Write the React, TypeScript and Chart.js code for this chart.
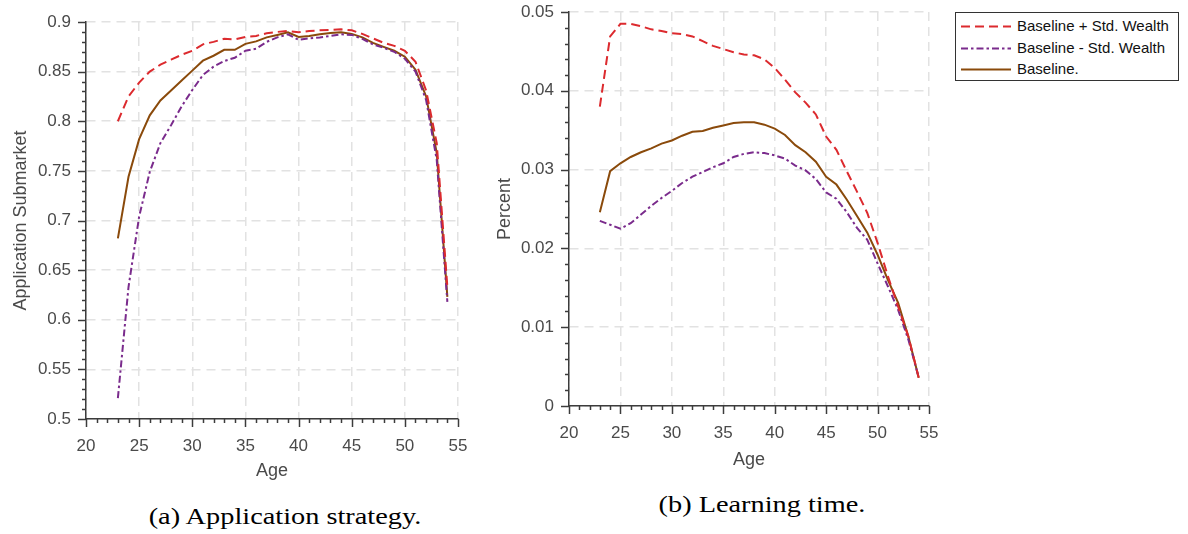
import React, { useEffect, useRef } from 'react';
import { Chart, registerables } from 'chart.js';

Chart.register(...registerables);

// ---------- data ----------
const ages = [23, 24, 25, 26, 27, 28, 29, 30, 31, 32, 33, 34, 35, 36, 37, 38, 39, 40, 41, 42, 43, 44, 45, 46, 47, 48, 49, 50, 51, 52, 53, 54];

const appPlus = [0.800, 0.825, 0.839, 0.850, 0.857, 0.862, 0.867, 0.871, 0.8775, 0.880, 0.883, 0.8825, 0.885, 0.886, 0.8886, 0.890, 0.891, 0.8896, 0.891, 0.8916, 0.892, 0.8926, 0.8916, 0.888, 0.8835, 0.879, 0.876, 0.871, 0.860, 0.831, 0.778, 0.633];
const appMinus = [0.521, 0.633, 0.704, 0.749, 0.778, 0.796, 0.815, 0.8315, 0.8466, 0.855, 0.8607, 0.864, 0.871, 0.873, 0.880, 0.8845, 0.8876, 0.882, 0.8835, 0.8845, 0.886, 0.8876, 0.887, 0.883, 0.8775, 0.874, 0.870, 0.863, 0.850, 0.8214, 0.761, 0.618];
const appBase = [0.682, 0.744, 0.782, 0.806, 0.821, 0.831, 0.841, 0.851, 0.861, 0.866, 0.872, 0.872, 0.878, 0.8805, 0.8845, 0.887, 0.8896, 0.885, 0.886, 0.8876, 0.889, 0.8896, 0.888, 0.8845, 0.879, 0.875, 0.871, 0.865, 0.852, 0.825, 0.768, 0.623];

const learnPlus = [0.0380, 0.0469, 0.0485, 0.0485, 0.0482, 0.0478, 0.0476, 0.0473, 0.0472, 0.0469, 0.0463, 0.0457, 0.0453, 0.0449, 0.0446, 0.0445, 0.0440, 0.0429, 0.0414, 0.0398, 0.0385, 0.0370, 0.0342, 0.0325, 0.0298, 0.0272, 0.0245, 0.0207, 0.0165, 0.0126, 0.0088, 0.0036];
const learnMinus = [0.0235, 0.0230, 0.0225, 0.0232, 0.0243, 0.0254, 0.0264, 0.0273, 0.0283, 0.0291, 0.0297, 0.0303, 0.0308, 0.0316, 0.0320, 0.0322, 0.0321, 0.0318, 0.0314, 0.0305, 0.0299, 0.0288, 0.0271, 0.0263, 0.0246, 0.0226, 0.0211, 0.0181, 0.0152, 0.0122, 0.0084, 0.0036];
const learnBase = [0.0246, 0.0298, 0.0308, 0.0316, 0.0322, 0.0327, 0.0333, 0.0337, 0.0343, 0.0348, 0.0349, 0.0353, 0.0356, 0.0359, 0.0360, 0.0360, 0.0357, 0.0352, 0.0344, 0.0331, 0.0322, 0.0310, 0.0291, 0.0281, 0.0262, 0.0241, 0.0220, 0.0192, 0.0160, 0.0131, 0.0088, 0.0036];

const xTickLabels = ['20', '25', '30', '35', '40', '45', '50', '55'];
const yTicksApp = ['0.5', '0.55', '0.6', '0.65', '0.7', '0.75', '0.8', '0.85', '0.9'];
const yTicksLearn = ['0', '0.01', '0.02', '0.03', '0.04', '0.05'];

const seriesNames = ['Baseline + Std. Wealth', 'Baseline - Std. Wealth', 'Baseline.'];
const yTitles = ['Application Submarket', 'Percent'];
const xTitle = 'Age';
const captions = ['(a) Application strategy.', '(b) Learning time.'];

// ---------- styles ----------
const COLORS = ['#dc2a2e', '#7a2b8c', '#8a4a0b'];
const DASHES = [[9, 5], [7, 3, 2.5, 3], []];
const AXIS_COLOR = '#3c3c3c';
const TEXT_COLOR = '#4a4a4a';
const GRID_COLOR = '#e2e2e2';
const SANS = "'Liberation Sans', Arial, Helvetica, sans-serif";

const outerTicks = {
  id: 'outerTicks',
  afterDraw(chart: any, _args: any, opts: any) {
    const { ctx, chartArea, scales } = chart;
    const xs = scales.x;
    const ys = scales.y;
    ctx.save();
    ctx.strokeStyle = AXIS_COLOR;
    ctx.lineWidth = 1.5;
    const nx = Math.round((xs.max - xs.min) / opts.xMinor);
    for (let i = 0; i <= nx; i++) {
      const v = xs.min + i * opts.xMinor;
      const major = i % opts.xPer === 0;
      const p = Math.round(xs.getPixelForValue(v)) + 0.5;
      ctx.beginPath();
      ctx.moveTo(p, chartArea.bottom);
      ctx.lineTo(p, chartArea.bottom + (major ? 8 : 4));
      ctx.stroke();
    }
    const ny = Math.round((ys.max - ys.min) / opts.yMinor);
    for (let i = 0; i <= ny; i++) {
      const v = ys.min + i * opts.yMinor;
      const major = i % opts.yPer === 0;
      const p = Math.round(ys.getPixelForValue(v)) + 0.5;
      ctx.beginPath();
      ctx.moveTo(chartArea.left, p);
      ctx.lineTo(chartArea.left - (major ? 8 : 4), p);
      ctx.stroke();
    }
    ctx.restore();
  },
};

type PanelCfg = {
  series: number[][];
  yMin: number;
  yMax: number;
  yStep: number;
  yMinor: number;
  yLabels: string[];
  yTitle: string;
  yTitlePad: number;
  yWidth: number;
  xHeight: number;
  xTitlePad: number;
  padTop: number;
  padRight: number;
  width: number;
  height: number;
};

const zeroPad = (s: any) => {
  s.paddingTop = 0;
  s.paddingBottom = 0;
  s.paddingLeft = 0;
  s.paddingRight = 0;
};

function Panel({ cfg }: { cfg: PanelCfg }) {
  const ref = useRef<HTMLCanvasElement | null>(null);
  useEffect(() => {
    if (!ref.current) return;
    const datasets = cfg.series.map((arr, k) => ({
      label: seriesNames[k],
      data: ages.map((a, i) => ({ x: a, y: arr[i] })),
      borderColor: COLORS[k],
      backgroundColor: COLORS[k],
      borderWidth: 2,
      borderDash: DASHES[k],
      pointRadius: 0,
      tension: 0,
      fill: false,
    }));
    const chart = new Chart(ref.current, {
      type: 'line',
      data: { datasets },
      plugins: [outerTicks],
      options: {
        animation: false,
        responsive: false,
        maintainAspectRatio: false,
        layout: { padding: { top: cfg.padTop, right: cfg.padRight, bottom: 0, left: 0 } },
        plugins: {
          legend: { display: false },
          tooltip: { enabled: false },
          outerTicks: { xMinor: 1, xPer: 5, yMinor: cfg.yMinor, yPer: Math.round(cfg.yStep / cfg.yMinor) },
        } as any,
        scales: {
          x: {
            type: 'linear',
            min: 20,
            max: 55,
            ticks: {
              stepSize: 5,
              padding: 17,
              color: TEXT_COLOR,
              font: { family: SANS, size: 17 },
              maxRotation: 0,
              autoSkip: false,
              callback: (v: any) => xTickLabels[Math.round((Number(v) - 20) / 5)],
            },
            grid: { color: GRID_COLOR, lineWidth: 1.5, drawTicks: false },
            border: { display: true, color: AXIS_COLOR, width: 1.5, dash: [9, 6] },
            title: {
              display: true,
              text: xTitle,
              color: TEXT_COLOR,
              font: { family: SANS, size: 18 },
              padding: { top: 0, bottom: cfg.xTitlePad },
            },
            afterFit: (s: any) => {
              s.height = cfg.xHeight;
              zeroPad(s);
            },
          },
          y: {
            type: 'linear',
            min: cfg.yMin,
            max: cfg.yMax,
            ticks: {
              stepSize: cfg.yStep,
              padding: 15,
              color: TEXT_COLOR,
              font: { family: SANS, size: 17 },
              autoSkip: false,
              callback: (v: any) => cfg.yLabels[Math.round((Number(v) - cfg.yMin) / cfg.yStep)],
            },
            grid: { color: GRID_COLOR, lineWidth: 1.5, drawTicks: false },
            border: { display: true, color: AXIS_COLOR, width: 1.5, dash: [9, 6] },
            title: {
              display: true,
              text: cfg.yTitle,
              color: TEXT_COLOR,
              font: { family: SANS, size: 18 },
              padding: { top: cfg.yTitlePad, bottom: 0 },
            },
            afterFit: (s: any) => {
              s.width = cfg.yWidth;
              zeroPad(s);
            },
          },
        },
      } as any,
    });
    return () => chart.destroy();
  }, [cfg]);
  return <canvas ref={ref} width={cfg.width} height={cfg.height} style={{ display: 'block' }} />;
}

const leftCfg: PanelCfg = {
  series: [appPlus, appMinus, appBase],
  yMin: 0.5,
  yMax: 0.9,
  yStep: 0.05,
  yMinor: 0.01,
  yLabels: yTicksApp,
  yTitle: yTitles[0],
  yTitlePad: 10,
  yWidth: 86,
  xHeight: 71,
  xTitlePad: 8,
  padTop: 22,
  padRight: 22,
  width: 480,
  height: 490,
};

const rightCfg: PanelCfg = {
  series: [learnPlus, learnMinus, learnBase],
  yMin: 0,
  yMax: 0.05,
  yStep: 0.01,
  yMinor: 0.002,
  yLabels: yTicksLearn,
  yTitle: yTitles[1],
  yTitlePad: 14,
  yWidth: 89,
  xHeight: 74,
  xTitlePad: 9,
  padTop: 12,
  padRight: 21,
  width: 470,
  height: 480,
};

function LegendBox() {
  const rowTops = [3, 25, 46];
  return (
    <div
      style={{
        position: 'absolute',
        left: 955,
        top: 12,
        width: 224,
        height: 69,
        boxSizing: 'border-box',
        border: '1.5px solid #333',
        background: '#fff',
      }}
    >
      {seriesNames.map((name, k) => (
        <div key={k} style={{ position: 'absolute', left: 0, top: rowTops[k], height: 20, width: 222 }}>
          <svg width={52} height={20} style={{ position: 'absolute', left: 4, top: 0 }}>
            <line
              x1={1}
              y1={10.5}
              x2={51}
              y2={10.5}
              stroke={COLORS[k]}
              strokeWidth={2}
              strokeDasharray={DASHES[k].length ? DASHES[k].join(' ') : undefined}
            />
          </svg>
          <span
            style={{
              position: 'absolute',
              left: 61,
              top: 0,
              lineHeight: '20px',
              fontFamily: SANS,
              fontSize: 15,
              color: '#111',
              whiteSpace: 'nowrap',
            }}
          >
            {name}
          </span>
        </div>
      ))}
    </div>
  );
}

export default function App() {
  const capStyle: React.CSSProperties = {
    position: 'absolute',
    width: 400,
    textAlign: 'center',
    fontFamily: "'Liberation Serif', 'Times New Roman', serif",
    fontSize: 24,
    lineHeight: '24px',
    color: '#000',
    transform: 'scaleX(1.18)',
    transformOrigin: 'center',
    whiteSpace: 'nowrap',
  };
  return (
    <div style={{ position: 'fixed', left: 0, top: 0, width: 1188, height: 534, background: '#fff', overflow: 'hidden' }}>
      <div style={{ position: 'absolute', left: 0, top: 0 }}>
        <Panel cfg={leftCfg} />
      </div>
      <div style={{ position: 'absolute', left: 480, top: 0 }}>
        <Panel cfg={rightCfg} />
      </div>
      <LegendBox />
      <div style={{ ...capStyle, left: 284.5 - 200, top: 504 }}>{captions[0]}</div>
      <div style={{ ...capStyle, left: 762 - 200, top: 492 }}>{captions[1]}</div>
    </div>
  );
}
